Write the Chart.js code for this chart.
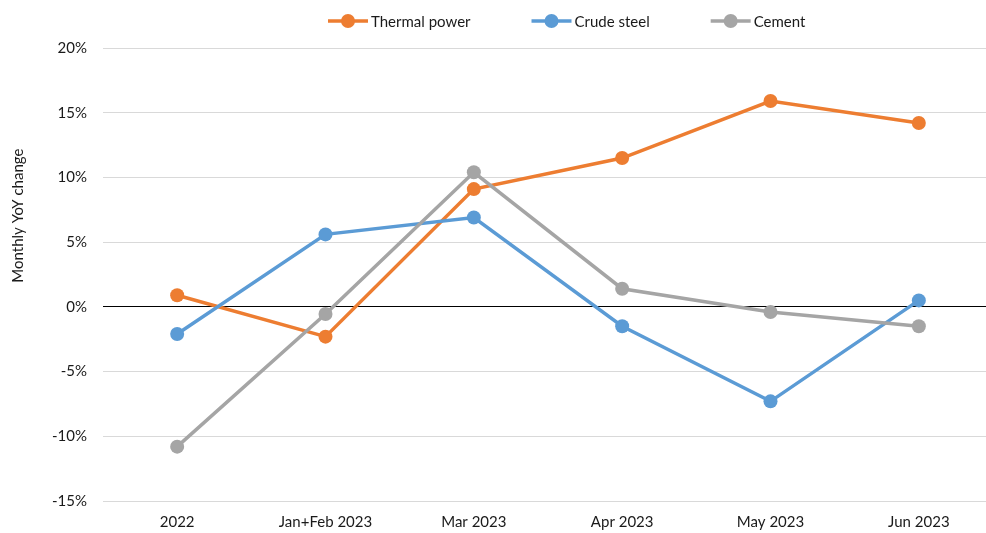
<!DOCTYPE html>
<html>
<head>
<meta charset="utf-8">
<script src="https://cdn.jsdelivr.net/npm/chart.js@4"></script>
<style>
  html, body { margin: 0; padding: 0; background: #fff; overflow: hidden; }
  #wrap { width: 1000px; height: 533px; }
</style>
</head>
<body>
<div id="wrap"><canvas id="c"></canvas></div>
<script>
// data
const categories = ["2022", "Jan+Feb 2023", "Mar 2023", "Apr 2023", "May 2023", "Jun 2023"];
const thermal = [0.9, -2.3, 9.1, 11.5, 15.9, 14.2];
const steel = [-2.1, 5.6, 6.9, -1.5, -7.3, 0.5];
const cement = [-10.8, -0.55, 10.4, 1.4, -0.4, -1.5];
const yTicks = [-15, -10, -5, 0, 5, 10, 15, 20];

const FONT = "Lato";
const FSIZE = 15;
const TXT = "#1a1a1a";

function series(label, data, color, order){
  return {
    label: label, data: data, order: order,
    borderColor: color, backgroundColor: color,
    borderWidth: 3.5, pointRadius: 7, pointHoverRadius: 7,
    pointBackgroundColor: color, pointBorderWidth: 0,
    pointStyle: "circle", tension: 0
  };
}

// legend + y axis title drawn by hand, Excel style
const extras = {
  id: "extras",
  afterDraw(chart){
    const g = chart.ctx, a = chart.chartArea;
    g.save();
    g.font = FSIZE + "px " + FONT;
    g.fillStyle = TXT;
    g.textBaseline = "middle";
    // legend
    let x = 328; const y = 21;
    chart.data.datasets.forEach(ds => {
      g.strokeStyle = ds.borderColor; g.lineWidth = 3.5;
      g.beginPath(); g.moveTo(x, y); g.lineTo(x + 40, y); g.stroke();
      g.fillStyle = ds.borderColor;
      g.beginPath(); g.arc(x + 20, y, 7, 0, Math.PI*2); g.fill();
      g.fillStyle = TXT; g.textAlign = "left";
      g.fillText(ds.label, x + 43, y + 1);
      x += 43 + g.measureText(ds.label).width + 61;
    });
    // y title
    g.translate(18, a.top + (a.bottom - a.top) * 0.37);
    g.rotate(-Math.PI/2);
    g.textAlign = "center";
    g.fillText("Monthly YoY change", 0, 0);
    g.restore();
  }
};

new Chart(document.getElementById("c"), {
  type: "line",
  data: {
    labels: categories,
    datasets: [
      series("Thermal power", thermal, "#ED7D31", 2),
      series("Crude steel", steel, "#5B9BD5", 1),
      series("Cement", cement, "#A5A5A5", 0)
    ]
  },
  options: {
    responsive: true, maintainAspectRatio: false, animation: false,
    devicePixelRatio: 1,
    layout: { padding: { top: 48, right: 3, left: 0, bottom: 0 } },
    plugins: {
      tooltip: { enabled: false },
      legend: { display: false }
    },
    scales: {
      x: {
        offset: true,
        grid: { display: false, drawTicks: false },
        border: { display: false },
        ticks: { color: TXT, padding: 12, font: { family: FONT, size: FSIZE }, maxRotation: 0 },
        afterFit: s => { s.height = 32; }
      },
      y: {
        min: -15, max: 20,
        afterBuildTicks: s => { s.ticks = yTicks.map(v => ({ value: v })); },
        afterFit: s => { s.width = 103; },
        grid: {
          drawTicks: false, lineWidth: 1,
          color: c => c.tick && c.tick.value === 0 ? "#000" : "#d9d9d9"
        },
        border: { display: false },
        ticks: { color: TXT, padding: 16, font: { family: FONT, size: FSIZE }, callback: v => v + "%" }
      }
    }
  },
  plugins: [extras]
});
</script>
</body>
</html>
